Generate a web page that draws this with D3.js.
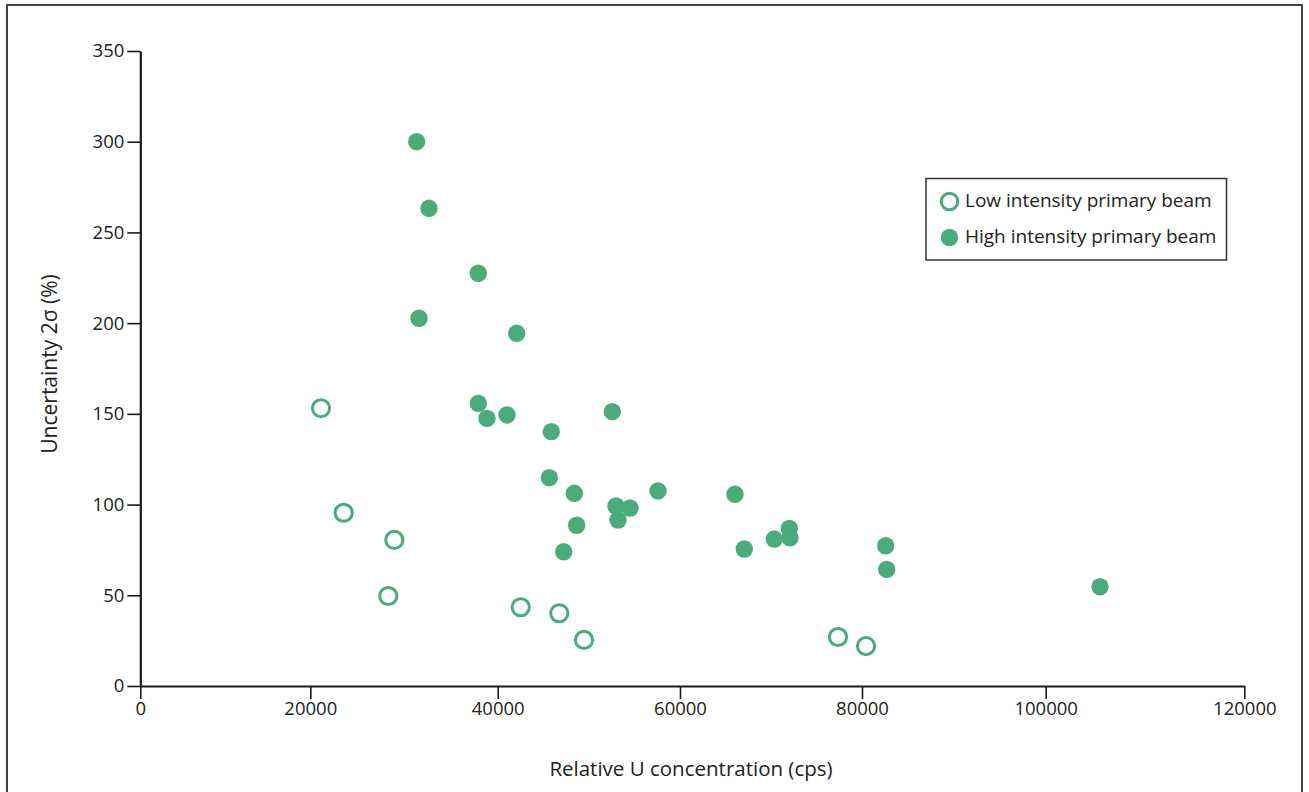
<!DOCTYPE html>
<html>
<head>
<meta charset="utf-8">
<script src="https://cdn.jsdelivr.net/npm/d3@7"></script>
<style>
  html, body { margin: 0; padding: 0; background: #fff; }
  svg { display: block; }
  text { font-family: "Open Sans", "Noto Sans", sans-serif; fill: #222; }
</style>
</head>
<body>
<script>
// ---- data ----
const lowX = [21142, 23564, 28964, 28324, 42523, 46758, 49468, 77363, 80435];
const lowY = [153.1, 95.5, 80.5, 49.6, 43.4, 40.1, 25.4, 27.0, 22.0];

const highX = [31355, 32668, 37929, 31601, 42085, 37929, 38858, 41020, 45881, 52573,
               45661, 48404, 48667, 47241, 52979, 54515, 53198, 57587, 66044, 67066,
               70363, 72011, 72088, 82580, 82689, 105468];
const highY = [300.0, 263.3, 227.5, 202.7, 194.4, 155.8, 147.5, 149.4, 140.2, 151.2,
               114.8, 106.2, 88.6, 74.0, 99.2, 98.1, 91.5, 107.5, 105.7, 75.5,
               81.0, 86.9, 81.7, 77.3, 64.3, 54.7];

const xTicks = [0, 20000, 40000, 60000, 80000, 100000, 120000];
const yTicks = [0, 50, 100, 150, 200, 250, 300, 350];

const seriesNames = ["Low intensity primary beam", "High intensity primary beam"];
const xTitle = "Relative U concentration (cps)";
const yTitle = "Uncertainty 2σ (%)";

// ---- layout ----
const W = 1309, H = 792;
const green = "#4cab7a";

const svg = d3.select("body").append("svg").attr("width", W).attr("height", H);

// outer frame
svg.append("rect").attr("x", 7).attr("y", 5).attr("width", 1295).attr("height", 800)
  .attr("fill", "none").attr("stroke", "#444").attr("stroke-width", 2);

// scales (reference axis is slightly non-uniform; piecewise linear matches its ticks)
const x = d3.scaleLinear().domain(xTicks).range([140.3, 310.3, 497.7, 680, 862, 1045.7, 1244.3]);
const y = d3.scaleLinear().domain([0, 350]).range([686, 51]);

const fs = 18.5;

// x axis
const xAxis = svg.append("g").attr("transform", "translate(0,686)")
  .call(d3.axisBottom(x).tickValues(xTicks).tickFormat(d3.format("d")).tickSize(13).tickSizeOuter(0));
xAxis.select(".domain").attr("stroke", "#1a1a1a").attr("stroke-width", 2.2);
xAxis.selectAll(".tick line").attr("stroke", "#1a1a1a").attr("stroke-width", 1.6);
xAxis.selectAll(".tick text").attr("font-size", fs).attr("font-family", "Open Sans")
  .attr("fill", "#222").attr("y", 16).attr("dy", "0.71em");

// y axis
const yAxis = svg.append("g").attr("transform", "translate(140.3,0)")
  .call(d3.axisLeft(y).tickValues(yTicks).tickSize(13).tickSizeOuter(0));
yAxis.select(".domain").attr("stroke", "#1a1a1a").attr("stroke-width", 2.2);
yAxis.selectAll(".tick line").attr("stroke", "#1a1a1a").attr("stroke-width", 1.6);
yAxis.selectAll(".tick text").attr("font-size", fs).attr("font-family", "Open Sans")
  .attr("fill", "#222").attr("x", -16);

// axis titles
svg.append("text").attr("x", 691).attr("y", 776).attr("text-anchor", "middle")
  .attr("font-size", 20.5).text(xTitle);
svg.append("text").attr("transform", "translate(57,364) rotate(-90)")
  .attr("text-anchor", "middle").attr("font-size", 21).text(yTitle);

// points
const lowData = lowX.map((v, i) => ({x: v, y: lowY[i]}));
const highData = highX.map((v, i) => ({x: v, y: highY[i]}));

svg.append("g").selectAll("circle").data(lowData).join("circle")
  .attr("cx", d => x(d.x)).attr("cy", d => y(d.y)).attr("r", 8.6)
  .attr("fill", "#fff").attr("stroke", green).attr("stroke-width", 3);

svg.append("g").selectAll("circle").data(highData).join("circle")
  .attr("cx", d => x(d.x)).attr("cy", d => y(d.y)).attr("r", 8.7)
  .attr("fill", green);

// legend
const lg = svg.append("g");
lg.append("rect").attr("x", 926).attr("y", 178.5).attr("width", 300.5).attr("height", 81.5)
  .attr("fill", "#fff").attr("stroke", "#333").attr("stroke-width", 1.5);
lg.append("circle").attr("cx", 949.5).attr("cy", 201.5).attr("r", 8.3)
  .attr("fill", "#fff").attr("stroke", green).attr("stroke-width", 3);
lg.append("circle").attr("cx", 949.5).attr("cy", 237.5).attr("r", 8.7).attr("fill", green);
lg.append("text").attr("x", 965).attr("y", 200.5).attr("dy", "0.35em")
  .attr("font-size", 19).text(seriesNames[0]);
lg.append("text").attr("x", 965).attr("y", 236.5).attr("dy", "0.35em")
  .attr("font-size", 19).text(seriesNames[1]);
</script>
</body>
</html>
